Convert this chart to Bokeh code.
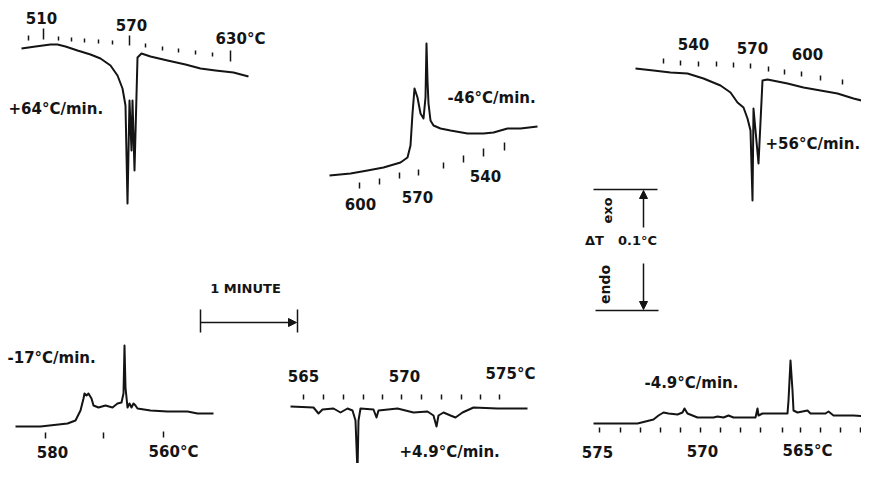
import math
from bokeh.plotting import figure
from bokeh.models import Range1d, Arrow, NormalHead
from bokeh.core.properties import value
from bokeh.embed import file_html
from bokeh.resources import INLINE

# ---------------- trace readings (page-position units) ----------------
# +64 C/min heating trace (top left)
h64_x = [21, 35, 50, 57, 65, 77, 90, 100, 110, 117, 122, 125, 127, 129, 131, 132, 134, 137, 141, 150, 167, 185, 200, 215, 233, 248]
h64_y = [48, 46, 44, 44, 46, 50, 54, 58, 65, 75, 88, 105, 203, 100, 150, 100, 170, 57, 53, 56, 60, 64, 68, 70, 72, 76]
h64_tick_x = [28, 43, 58, 71, 84, 98, 112, 129, 145, 162, 178, 195, 212, 230]
h64_tick_y = [35, 28, 36, 37, 38, 39, 40, 35, 43, 46, 48, 50, 52, 50]
h64_tick_len = [5, 11, 4, 4, 4, 4, 4, 10, 4, 4, 4, 4, 4, 11]

# -46 C/min cooling trace (top middle)
c46_x = [329, 350, 367, 383, 400, 407, 410, 412, 414, 417, 420, 423, 425, 426, 427, 428, 430, 433, 440, 450, 467, 483, 493, 507, 520, 537]
c46_y = [175, 173, 170, 167, 162, 157, 145, 113, 88, 97, 113, 118, 97, 43, 80, 103, 120, 125, 128, 130, 133, 133, 132, 128, 128, 126]
c46_tick_x = [359, 379, 399, 418, 443, 463, 483, 504]
c46_tick_y = [182, 178, 172, 169, 162, 155, 148, 142]
c46_tick_len = [6, 6, 6, 6, 6, 7, 8, 8]

# +56 C/min heating trace (top right)
h56_x = [635, 653, 670, 687, 703, 720, 730, 737, 743, 747, 750, 752, 753, 758, 762, 767, 787, 803, 820, 837, 853, 873]
h56_y = [68, 70, 72, 73, 78, 85, 92, 102, 107, 118, 130, 200, 108, 163, 80, 79, 83, 87, 90, 93, 98, 103]
h56_tick_x = [663, 680, 698, 716, 733, 750, 768, 784, 801, 820, 842]
h56_tick_y = [58, 60, 61, 61, 62, 63, 66, 69, 71, 75, 79]
h56_tick_len = [5, 5, 5, 5, 5, 5, 5, 5, 5, 5, 5]

# -17 C/min cooling trace (bottom left)
c17_x = [15, 40, 67, 75, 80, 83, 84, 86, 88, 91, 93, 98, 105, 112, 117, 121, 123, 124, 125, 127, 129, 131, 133, 135, 137, 150, 167, 187, 197, 213]
c17_y = [426, 426, 423, 420, 410, 398, 393, 395, 393, 398, 405, 407, 405, 407, 403, 402, 393, 345, 387, 407, 403, 407, 403, 405, 408, 410, 411, 411, 413, 413]
c17_tick_x = [45, 103, 163]
c17_tick_y = [432, 432, 431]
c17_tick_len = [6, 6, 6]

# +4.9 C/min heating trace (bottom middle)
h49_x = [290, 313, 318, 322, 333, 340, 347, 352, 355, 357, 358, 360, 373, 376, 378, 397, 413, 427, 433, 436, 438, 443, 450, 455, 462, 473, 497, 527]
h49_y = [406, 407, 413, 409, 408, 412, 408, 410, 420, 472, 420, 408, 409, 417, 410, 408, 412, 411, 415, 426, 415, 412, 415, 417, 412, 407, 408, 408]
h49_tick_x = [303, 323, 343, 363, 382, 401, 421, 441, 461, 480, 499]
h49_tick_y = [394] * 11
h49_tick_len = [5] * 11

# -4.9 C/min cooling trace (bottom right)
c49_x = [593, 637, 653, 658, 663, 668, 677, 682, 684, 687, 697, 713, 717, 723, 728, 733, 755, 757, 758, 762, 787, 788, 790, 792, 793, 797, 807, 810, 825, 828, 833, 853, 870]
c49_y = [423, 423, 419, 415, 412, 413, 414, 412, 408, 413, 417, 417, 416, 417, 415, 417, 417, 408, 415, 413, 413, 400, 360, 390, 410, 412, 410, 413, 413, 411, 415, 415, 416]
c49_tick_x = [599, 620, 640, 660, 680, 700, 720, 740, 760, 782, 800, 820, 840, 860]
c49_tick_y = [427] * 14
c49_tick_len = [5] * 14

# temperature tick labels
temp_labels = ["510", "570", "630°C", "600", "570", "540", "540", "570", "600",
               "580", "560°C", "565", "570", "575°C", "575", "570", "565°C"]
temp_x = [41, 131, 240, 360, 417, 485, 693, 752, 807, 52, 173, 303, 404, 510, 597, 702, 807]
temp_y = [17, 24, 38, 203, 196, 175, 43, 47, 53, 451, 451, 375, 375, 373, 451, 450, 450]

# rate labels
rate_labels = ["+64°C/min.", "-46°C/min.", "+56°C/min.", "-17°C/min.", "+4.9°C/min.", "-4.9°C/min."]
rate_x = [8, 447, 765, 7, 399, 644]
rate_y = [108, 97, 143, 357, 451, 382]

# ---------------- figure ----------------
p = figure(width=861, height=463, output_backend="svg", toolbar_location=None,
           x_range=Range1d(0, 861), y_range=Range1d(463, 0),
           x_axis_type=None, y_axis_type=None, min_border=0)
p.grid.visible = False
p.outline_line_color = None
p.background_fill_color = "white"

INK = "#141414"
FONT = value("DejaVu Sans")

traces = [(h64_x, h64_y), (c46_x, c46_y), (h56_x, h56_y), (c17_x, c17_y), (h49_x, h49_y), (c49_x, c49_y)]
for xs, ys in traces:
    p.line(xs, ys, line_color=INK, line_width=2.0, line_join="round")

tick_sets = [(h64_tick_x, h64_tick_y, h64_tick_len), (c46_tick_x, c46_tick_y, c46_tick_len),
             (h56_tick_x, h56_tick_y, h56_tick_len), (c17_tick_x, c17_tick_y, c17_tick_len),
             (h49_tick_x, h49_tick_y, h49_tick_len), (c49_tick_x, c49_tick_y, c49_tick_len)]
for tx, ty, tl in tick_sets:
    p.segment(x0=tx, y0=ty, x1=tx, y1=[a + b for a, b in zip(ty, tl)], line_color=INK, line_width=1.5)

p.text(x=temp_x, y=temp_y, text=temp_labels, text_font=FONT, text_font_style="bold",
       text_font_size="15px", text_align="center", text_baseline="middle", text_color=INK)
p.text(x=rate_x, y=rate_y, text=rate_labels, text_font=FONT, text_font_style="bold",
       text_font_size="15px", text_align="left", text_baseline="middle", text_color=INK)

# ---- ΔT scale ----
p.segment(x0=[593, 595], y0=[189, 310], x1=[657, 658], y1=[189, 310], line_color=INK, line_width=1.5)
p.add_layout(Arrow(end=NormalHead(size=8, fill_color=INK, line_color=INK), x_start=643, y_start=227,
                   x_end=643, y_end=190, line_color=INK, line_width=1.5))
p.add_layout(Arrow(end=NormalHead(size=8, fill_color=INK, line_color=INK), x_start=643, y_start=263,
                   x_end=643, y_end=309, line_color=INK, line_width=1.5))
p.text(x=[607], y=[210], text=["exo"], angle=math.pi / 2, text_font=FONT,
       text_font_style="bold", text_font_size="13px", text_align="center", text_baseline="middle", text_color=INK)
p.text(x=[604], y=[284], text=["endo"], angle=math.pi / 2, text_font=FONT,
       text_font_style="bold", text_font_size="14px", text_align="center", text_baseline="middle", text_color=INK)
p.text(x=[594, 637], y=[240, 240], text=["ΔT", "0.1°C"], text_font=FONT, text_font_style="bold",
       text_font_size="13px", text_align="center", text_baseline="middle", text_color=INK)

# ---- 1 minute scale ----
p.text(x=[245], y=[288], text=["1 MINUTE"], text_font=FONT, text_font_style="bold",
       text_font_size="13px", text_align="center", text_baseline="middle", text_color=INK)
p.segment(x0=[200, 297], y0=[309, 309], x1=[200, 297], y1=[332, 332], line_color=INK, line_width=1.5)
p.add_layout(Arrow(end=NormalHead(size=8, fill_color=INK, line_color=INK), x_start=200, y_start=322,
                   x_end=296, y_end=322, line_color=INK, line_width=1.5))

open("out.html", "w").write(file_html(p, INLINE))
